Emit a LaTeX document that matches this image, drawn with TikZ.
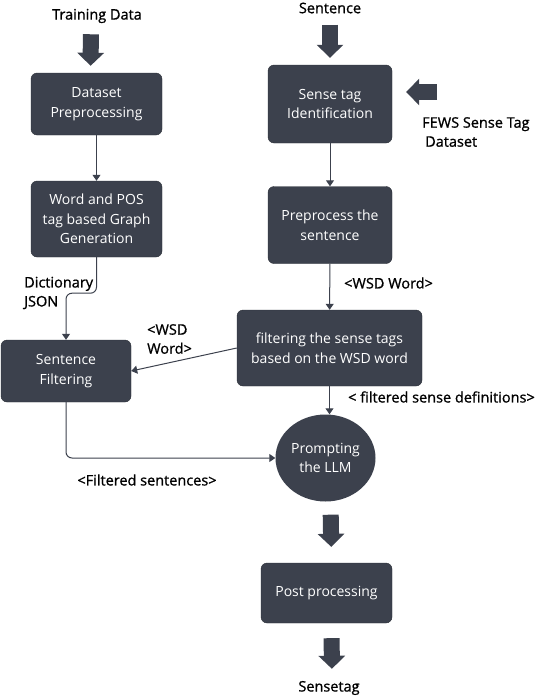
\documentclass[tikz,border=0pt]{standalone}
\usepackage{fontspec}
\setmainfont{Open Sans}
\newfontfamily\labfont[FakeBold=1]{Open Sans}
\usetikzlibrary{arrows.meta,positioning,shapes.geometric}
\definecolor{boxgray}{HTML}{3C414D}

\begin{document}
\begin{tikzpicture}[x=1pt,y=-1pt,font=\fontsize{14}{19.5}\selectfont,
  stepbox/.style={fill=boxgray,draw=boxgray!70!black,rounded corners=6pt,text=white,align=center,inner sep=0pt},
  lab/.style={font=\labfont\fontsize{14.5}{19}\selectfont,align=left,inner sep=1pt},
  flowline/.style={draw=boxgray,line width=1pt,-{Triangle[length=6pt,width=8pt]}},
  fatarrow/.style={draw=boxgray,line width=16pt,-{Triangle[length=13pt,width=26pt]}}]
\useasboundingbox (0,0) rectangle (536,696);
% left column
\node[lab] (train) at (97,16) {Training Data};
\node[stepbox,minimum width=131pt,minimum height=62pt] (prep) at (96.5,104) {Dataset\\Preprocessing};
\node[stepbox,minimum width=131pt,minimum height=76pt] (graph) at (96.5,219) {Word and POS\\tag based Graph\\Generation};
\node[stepbox,minimum width=130pt,minimum height=62pt] (sfilt) at (66,371) {Sentence\\Filtering};
\node[lab,anchor=west] (dict) at (23,293) {Dictionary\\JSON};
\node[lab,anchor=west] (wsdl) at (146,339) {<WSD\\Word>};
\node[lab] (fsent) at (147,480) {<Filtered sentences>};
% right column
\node[lab] (sent) at (330,8) {Sentence};
\node[stepbox,minimum width=124pt,minimum height=78pt] (ident) at (330,104) {Sense tag\\Identification};
\node[lab,anchor=west] (fews) at (421,132) {FEWS Sense Tag\\\hspace{3pt}Dataset};
\coordinate (fewsin) at (437,92);
\node[stepbox,minimum width=124pt,minimum height=77pt] (pre2) at (330,225) {Preprocess the\\sentence};
\node[lab,anchor=west] (wsdr) at (343,283) {<WSD Word>};
\node[stepbox,minimum width=185pt,minimum height=76pt] (tagfilt) at (329.5,348) {filtering the sense tags\\based on the WSD word};
\node[lab,anchor=west] (fdef) at (347,397) {< filtered sense definitions>};
\node[ellipse,fill=boxgray,text=white,align=center,minimum width=100pt,minimum height=87pt,inner sep=0pt] (llm) at (325.5,458) {Prompting\\the LLM};
\node[stepbox,minimum width=131pt,minimum height=60pt] (post) at (326.5,593) {Post processing};
\node[lab] (stag) at (329,688) {Sensetag};
% connectors
\draw[fatarrow,shorten <=10pt,shorten >=7pt] ([xshift=-6pt]train.south) -- ([xshift=-6pt]prep.north);
\draw[flowline] (prep) -- (graph);
\draw[flowline,rounded corners=6pt] (graph.south) -- ++(0,36) -| (sfilt.north);
\draw[flowline] (tagfilt.west) -- (sfilt.east);
\draw[flowline,rounded corners=6pt] (sfilt.south) |- (llm.west);
\draw[fatarrow,shorten <=10pt,shorten >=7pt] (sent) -- (ident);
\draw[fatarrow,shorten >=14pt] (fewsin) -- (fewsin -| ident.east);
\draw[flowline] (ident) -- (pre2);
\draw[flowline] (pre2) -- (tagfilt);
\draw[flowline] (tagfilt.south) -- (tagfilt.south |- llm.north);
\draw[fatarrow,shorten <=13pt,shorten >=16pt] ([xshift=5pt]llm.south) -- ([xshift=5pt]post.north);
\draw[fatarrow,shorten <=15pt,shorten >=11pt] ([xshift=5pt]post.south) -- ([xshift=3pt]stag.north);
\end{tikzpicture}
\end{document}
